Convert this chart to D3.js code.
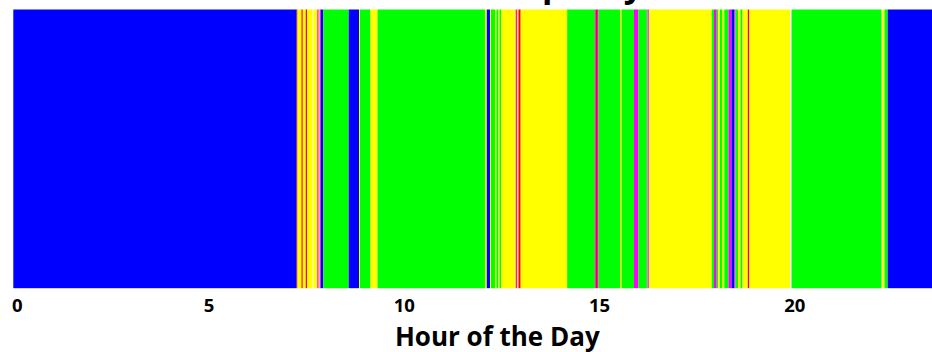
<!DOCTYPE html>
<html>
<head>
<meta charset="utf-8">
<script src="https://cdn.jsdelivr.net/npm/d3@7"></script>
<style>
  body { margin: 0; background: #fff; }
  svg { display: block; }
  text { font-family: "Open Sans", Lato, sans-serif; font-weight: 700; fill: #000; }
</style>
</head>
<body>
<svg id="chart" width="932" height="352"></svg>
<script>
// Hour at which each occupancy segment begins (segment ends where the next begins)
const segmentStart = [
  0, 7.257, 7.278, 7.380, 7.414, 7.488, 7.521, 7.662, 7.687, 7.785,
  7.821, 7.846, 7.872, 7.939, 8.589, 8.853, 8.878, 9.147, 9.327, 12.079,
  12.125, 12.207, 12.233, 12.343, 12.374, 12.425, 12.451, 12.489, 12.866, 12.904,
  12.937, 12.993, 14.184, 14.896, 14.917, 14.947, 14.986, 15.536, 15.575, 15.895,
  16.005, 16.220, 16.241, 16.261, 16.284, 17.885, 17.944, 18.013, 18.054, 18.097,
  18.161, 18.207, 18.315, 18.392, 18.468, 18.494, 18.558, 18.622, 18.674, 18.809,
  18.848, 19.890, 19.928, 22.233, 22.254, 22.310, 22.392
];
// Occupancy level of each segment (-1 = no reading)
const segmentLevel = [
  0, 3, 2, 3, 2, 3, 2, -1, 2, 4,
  2, 4, 0, 1, 0, 2, 1, 2, 1, 2,
  0, 2, 1, 2, 1, 2, 1, 2, 4, 2,
  3, 2, 1, 4, 3, 4, 1, 2, 1, 4,
  1, 4, 1, 4, 2, 1, 4, 1, 2, 1,
  2, 1, 4, 0, 4, 1, 2, 1, 2, 3,
  2, -1, 1, -1, 2, 1, 0
];
const dayEnd = 24;
const levelColors = ["#0000ff", "#00ff00", "#ffff00", "#ff0000", "#ff00ff"];
const tickHours = [0, 5, 10, 15, 20];
const titleText = "Occupancy";
const axisTitle = "Hour of the Day";

const svg = d3.select("#chart");
const barTop = 9.5, barBottom = 288.2;

const x = d3.scaleLinear().domain([0, dayEnd]).range([13.3, 950.5]);

const segments = segmentStart.map((s, i) => ({
  start: s,
  end: i + 1 < segmentStart.length ? segmentStart[i + 1] : dayEnd,
  level: segmentLevel[i]
})).filter(d => d.level >= 0);

svg.append("g")
  .selectAll("rect")
  .data(segments)
  .join("rect")
  .attr("x", d => x(d.start))
  .attr("width", d => x(d.end) - x(d.start))
  .attr("y", barTop)
  .attr("height", barBottom - barTop)
  .attr("fill", d => levelColors[d.level]);

const axis = svg.append("g")
  .attr("transform", `translate(0,${barBottom})`)
  .call(d3.axisBottom(x).tickValues(tickHours).tickSize(0).tickFormat(d3.format("d")));
axis.select(".domain").remove();
axis.selectAll("text")
  .attr("y", 23.5)
  .attr("dy", 0)
  .attr("dx", d => d === 0 ? 3.5 : 0)
  .style("font-family", "'Open Sans', Lato, sans-serif")
  .style("font-weight", 700)
  .style("font-size", "18.5px")
  .attr("fill", "#000");

svg.append("text")
  .attr("x", 497.3)
  .attr("y", 345.5)
  .attr("text-anchor", "middle")
  .style("font-size", "26px")
  .text(axisTitle);

// Title sits above the top edge; only its descenders reach into view
const title = svg.append("text")
  .attr("y", -3)
  .style("font-size", "34px")
  .text(titleText);
const lead = title.node().getSubStringLength(0, 4);
title.attr("x", 542 - lead);
</script>
</body>
</html>
